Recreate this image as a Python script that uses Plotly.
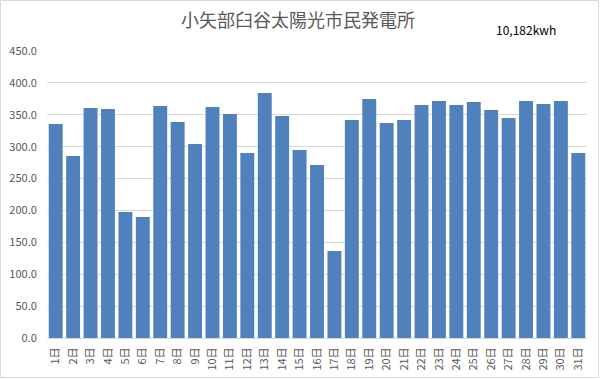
import plotly.graph_objects as go

days = [f"{i}日" for i in range(1, 32)]
values = [335.5, 285.3, 360.6, 359.0, 197.5, 189.7, 363.7, 338.6, 304.2, 362.2,
          351.2, 290.0, 384.1, 348.0, 294.7, 271.2, 136.4, 341.8, 374.7, 337.1,
          341.8, 365.3, 371.6, 365.3, 370.0, 357.5, 344.9, 371.6, 366.9, 371.6, 290.0]
title_text = "小矢部臼谷太陽光市民発電所"
total_text = "10,182kwh"
y_ticks = [0, 50, 100, 150, 200, 250, 300, 350, 400, 450]

W, H = 601, 379
ml, mr, mt, mb = 47, 14, 51, 41
pw, ph = W - ml - mr, H - mt - mb

fig = go.Figure(go.Bar(x=days, y=values, marker_color="#4F81BD", marker_line_width=0))

font_family = "Noto Sans CJK JP, sans-serif"
fig.update_layout(
    width=W, height=H,
    margin=dict(l=ml, r=mr, t=mt, b=mb, pad=0),
    paper_bgcolor="white", plot_bgcolor="white",
    bargap=0.2,
    showlegend=False,
    font=dict(family=font_family, color="#595959"),
    title=dict(text=title_text, x=0.496, xanchor="center", y=1 - 21 / H, yanchor="middle",
               font=dict(size=18, color="#595959", family=font_family)),
    xaxis=dict(tickangle=-90, tickfont=dict(size=11, color="#595959"), showgrid=False,
               showline=True, linecolor="#d9d9d9", linewidth=1,
               ticks="outside", ticklen=4, tickcolor="rgba(0,0,0,0)",
               automargin=False),
    yaxis=dict(range=[0, 450], tickvals=y_ticks, ticktext=[f"{v:.1f}" for v in y_ticks],
               tickfont=dict(size=11, color="#595959"), gridcolor="#d9d9d9", gridwidth=1,
               showline=False, zeroline=False,
               ticks="outside", ticklen=7, tickcolor="rgba(0,0,0,0)", automargin=False),
    annotations=[dict(text=total_text, xref="paper", yref="paper",
                      x=(526 - ml) / pw, y=(H - 30 - mb) / ph, xanchor="center", yanchor="middle",
                      showarrow=False, font=dict(size=12, color="#000000", family=font_family))],
    shapes=[dict(type="rect", xref="paper", yref="paper",
                 x0=(0.5 - ml) / pw, x1=(W - 2.5 - ml) / pw,
                 y0=-(mb - 1.5) / ph,
                 y1=1 + (mt - 0.5) / ph,
                 line=dict(color="#d9d9d9", width=1), layer="below")],
)

fig.write_html("out.html", config={"displayModeBar": False},
               post_script="document.body.style.margin='0';document.body.style.padding='0';")
